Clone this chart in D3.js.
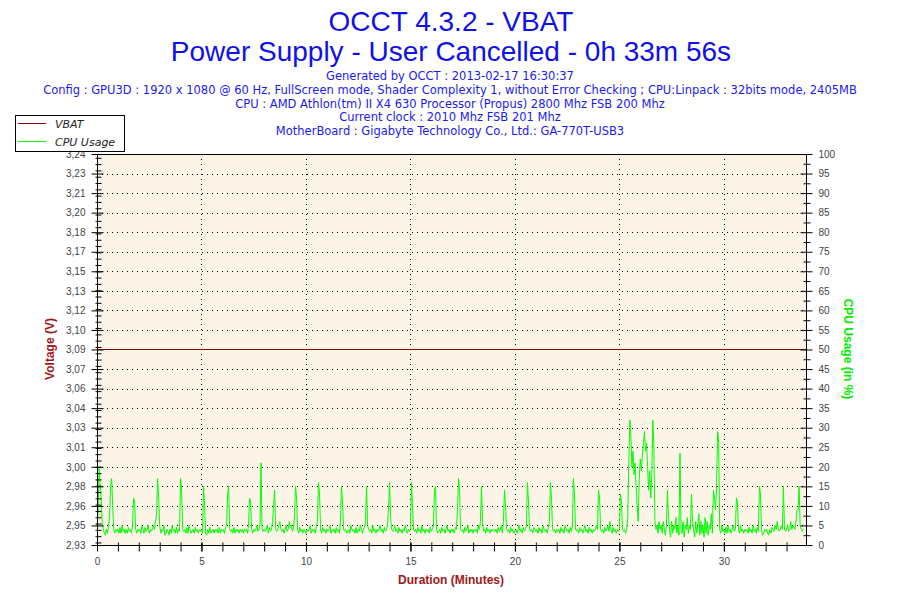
<!DOCTYPE html>
<html>
<head>
<meta charset="utf-8">
<script src="https://cdn.jsdelivr.net/npm/d3@7"></script>
<style>
body{margin:0;background:#fff;}
</style>
</head>
<body>
<script>
// --- data ---
var titleLines = ['OCCT 4.3.2 - VBAT', 'Power Supply - User Cancelled - 0h 33m 56s'];
var infoLines = [
  'Generated by OCCT : 2013-02-17 16:30:37',
  'Config : GPU3D : 1920 x 1080 @ 60 Hz, FullScreen mode, Shader Complexity 1, without Error Checking ; CPU:Linpack : 32bits mode, 2405MB',
  'CPU : AMD Athlon(tm) II X4 630 Processor (Propus) 2800 Mhz FSB 200 Mhz',
  'Current clock : 2010 Mhz FSB 201 Mhz',
  'MotherBoard : Gigabyte Technology Co., Ltd.: GA-770T-USB3'
];
var seriesNames = ['VBAT', 'CPU Usage'];
var seriesColors = ['#800000', '#00ff00'];

var duration = 33.93; // minutes
var vbatTime = [0, 33.93];
var vbatValue = [3.088, 3.088];

var cpuStep = 0.05; // minutes between cpu samples (one row = one minute)
var cpuUsage = [
  5, 8, 20, 15, 12, 6, 4, 3, 2.5, 4, 3, 5, 7, 15, 17, 10, 4, 3, 4, 3.5,
  4, 3, 4.5, 3, 5, 3.5, 4, 3, 4, 3, 4.5, 3.5, 4, 3, 5, 12, 11, 4, 3, 4,
  3.5, 4, 3, 5, 4, 3, 4.5, 3.5, 4, 5, 3, 4, 3.5, 4, 5, 4, 6, 8, 17, 12,
  5, 3, 4, 3.5, 5, 2.5, 3, 4, 3.5, 2.5, 4, 3, 5, 3.5, 4, 3, 4.5, 3, 4, 3.5,
  17, 14, 4, 3.5, 4, 3, 4.5, 3, 5, 4, 3, 3.5, 4, 3, 4.5, 3.5, 4, 3, 4, 3.5,
  4, 3, 15, 10, 3, 2.5, 4, 3, 4.5, 3, 3.5, 4, 3, 4, 3.5, 4, 3, 4.5, 3, 4,
  3.5, 4, 3, 4.5, 5, 13, 15, 4, 3.5, 4, 3, 4.5, 3, 4, 3.5, 4, 3, 4, 3.5, 4,
  3, 4, 3.5, 4, 3, 5, 12, 11, 4, 3, 4, 3.5, 4, 5, 3.5, 4, 5, 21, 4, 3.5,
  4, 3.5, 4, 5, 3, 4.5, 3.5, 4, 6, 10, 14, 4, 3.5, 4, 5, 6, 4, 3.5, 4, 3,
  4, 5, 3.5, 4, 6, 4.5, 5, 3.5, 4, 7, 15, 12, 4, 3, 4.5, 3.5, 4, 3, 4, 3.5,
  3, 4, 3.5, 4, 5, 3, 4, 3.5, 4, 3, 5, 6, 16, 13, 4, 3, 4.5, 3.5, 4, 3,
  4, 3.5, 4, 5, 3, 4, 3.5, 4, 3, 4.5, 3.5, 4, 3, 6, 15, 11, 4, 3.5, 4, 3,
  3.5, 4, 3, 5, 4, 3.5, 4, 3, 4.5, 3, 4, 3.5, 5, 4, 3, 4, 4.5, 6, 15, 5,
  4, 3.5, 4, 3, 5, 3.5, 4, 3, 4, 3.5, 4, 5, 3.5, 4, 3, 4.5, 3.5, 4, 5, 9,
  16, 7, 4, 3.5, 4, 5, 3.5, 4, 3, 4.5, 3.5, 4, 3, 4, 3.5, 5, 4, 3, 4, 3.5,
  4, 16, 10, 4, 3.5, 4, 3, 4.5, 3.5, 4, 3, 5, 3.5, 4, 3, 4, 3.5, 4, 3, 4.5,
  3.5, 4, 5, 14, 15, 4, 3, 3.5, 4, 3, 4.5, 3.5, 4, 3, 4, 5, 3.5, 4, 3, 4,
  3.5, 4, 3, 4.5, 4, 9, 17, 14, 4, 3.5, 4, 3, 4.5, 3.5, 4, 5, 3, 4, 3.5, 4,
  3, 4, 3.5, 4, 3, 5, 4, 6, 15, 6, 3.5, 4, 3, 4.5, 3.5, 4, 3, 4, 3.5, 4,
  4, 3.5, 4, 3, 4.5, 3.5, 4, 5, 3, 6, 14, 10, 4, 3.5, 4, 3, 4.5, 3.5, 4, 3,
  3.5, 4, 3, 4, 5, 3.5, 4, 3, 4.5, 3.5, 4, 5, 16, 11, 4, 3.5, 4, 3, 4.5, 4,
  3.5, 4, 3, 4.5, 3.5, 4, 3, 5, 4, 3.5, 4, 3, 4.5, 6, 16, 12, 4, 3.5, 4, 3,
  4, 3.5, 4, 3, 4.5, 3.5, 4, 3, 5, 4, 3.5, 4, 3, 4.5, 3.5, 5, 17, 13, 4, 3.5,
  4, 3, 4.5, 3.5, 4, 3, 4, 5, 3.5, 4, 3, 4.5, 3.5, 4, 3, 4, 3.5, 4, 5, 4,
  14, 12, 4, 3.5, 4, 3, 4.5, 3.5, 4, 5, 3.5, 6, 4, 3, 4.5, 3.5, 4, 3, 4, 3.5,
  4, 13, 11, 4, 3.5, 4, 3, 4, 7, 21, 32, 28, 20, 24, 18, 21, 15, 10, 6, 17,
  22, 19, 23, 26, 29, 24, 26, 20, 14, 19, 12, 18, 32, 25, 6, 4, 5, 3, 6, 4,
  5, 3, 6, 4, 2.5, 5, 14, 7, 4, 2, 6, 3, 5, 4, 7, 3, 5, 2.5, 23.5, 4,
  3, 6, 2, 5, 4, 7, 3, 5, 4, 13, 6, 4, 2, 6, 3, 5, 8, 2.5, 6, 3,
  5, 2, 7, 3, 6, 2.5, 5, 4, 8, 3, 14, 12, 9, 15, 29, 27, 4, 3, 5, 3.5,
  4, 3, 4.5, 3, 5, 3.5, 4, 3, 4, 5, 3.5, 4, 12, 11, 4, 3, 5, 3.5, 4, 3,
  4, 3.5, 4, 3, 4.5, 3.5, 4, 3, 5, 3.5, 4, 3, 4.5, 3.5, 15, 13, 4, 2.5, 3, 4,
  3.5, 4, 3, 2.5, 4, 3, 4.5, 4, 3.5, 5, 4, 6, 4, 3.5, 4, 5, 4, 15, 4, 3.5,
  4, 5, 3.5, 4, 6, 4, 5, 4.5, 4, 6, 9, 9, 15, 5, 4, 3.5, 4
];

var voltTicks = [2.933, 2.9485, 2.964, 2.9795, 2.995, 3.0105, 3.026, 3.0415, 3.057, 3.0725, 3.088,
                 3.1035, 3.119, 3.1345, 3.15, 3.1655, 3.181, 3.1965, 3.212, 3.2275, 3.243];
var voltLabels = ['2,93', '2,95', '2,96', '2,98', '3,00', '3,01', '3,03', '3,04', '3,06', '3,07', '3,09',
                  '3,10', '3,12', '3,13', '3,15', '3,17', '3,18', '3,20', '3,21', '3,23', '3,24'];
var cpuTicks = [0, 5, 10, 15, 20, 25, 30, 35, 40, 45, 50, 55, 60, 65, 70, 75, 80, 85, 90, 95, 100];
var timeTicks = [0, 5, 10, 15, 20, 25, 30];

// --- drawing ---
var W = 900, H = 600;
var pLeft = 97, pRight = 806, pTop = 154, pBottom = 545;

var svg = d3.select('body').append('svg')
  .attr('width', W).attr('height', H)
  .style('font-family', 'Liberation Sans, Arial, sans-serif');

var x = d3.scaleLinear().domain([0, duration]).range([pLeft, pRight]);
var yV = d3.scaleLinear().domain([voltTicks[0], voltTicks[voltTicks.length - 1]]).range([pBottom, pTop]);
var yC = d3.scaleLinear().domain([0, 100]).range([pBottom, pTop]);

// titles
titleLines.forEach(function(t, i) {
  svg.append('text')
    .text(t)
    .attr('x', 451)
    .attr('y', 31 + i * 29.5)
    .attr('text-anchor', 'middle')
    .style('font-size', '28px')
    .attr('fill', '#1010e8');
});

infoLines.forEach(function(t, i) {
  svg.append('text')
    .text(t)
    .attr('x', 450)
    .attr('y', 80 + i * 13.8)
    .attr('text-anchor', 'middle')
    .style('font-family', 'DejaVu Sans, Verdana, sans-serif')
    .style('font-size', '11.5px')
    .attr('fill', '#1a1af0');
});

// plot background
svg.append('rect')
  .attr('x', pLeft).attr('y', pTop)
  .attr('width', pRight - pLeft).attr('height', pBottom - pTop)
  .attr('fill', '#fcf5e7');

// dotted grid
svg.selectAll('.hgrid').data(voltTicks).enter().append('line')
  .attr('class', 'hgrid')
  .attr('x1', pLeft).attr('x2', pRight)
  .attr('y1', function(d) { return Math.round(yV(d)) + 0.5; })
  .attr('y2', function(d) { return Math.round(yV(d)) + 0.5; })
  .attr('stroke', '#000').attr('stroke-dasharray', '1,4');

svg.selectAll('.vgrid').data(timeTicks.slice(1)).enter().append('line')
  .attr('class', 'vgrid')
  .attr('y1', pTop).attr('y2', pBottom)
  .attr('x1', function(d) { return Math.round(x(d)) + 0.5; })
  .attr('x2', function(d) { return Math.round(x(d)) + 0.5; })
  .attr('stroke', '#000').attr('stroke-dasharray', '1,4');

// series
var cpuLine = d3.line()
  .x(function(d, i) { return x(i * cpuStep); })
  .y(function(d) { return yC(d); });

svg.append('path')
  .datum(cpuUsage)
  .attr('d', cpuLine)
  .attr('fill', 'none')
  .attr('stroke', seriesColors[1])
  .attr('stroke-width', 1);

var vLine = d3.line()
  .x(function(d) { return x(d); })
  .y(function(d, i) { return Math.round(yV(vbatValue[i])) + 0.5; });

svg.append('path')
  .datum(vbatTime)
  .attr('d', vLine)
  .attr('fill', 'none')
  .attr('stroke', seriesColors[0])
  .attr('stroke-width', 1);

// frame
svg.append('rect')
  .attr('x', pLeft + 0.5).attr('y', pTop + 0.5)
  .attr('width', pRight - pLeft).attr('height', pBottom - pTop)
  .attr('fill', 'none').attr('stroke', '#000');

// axes
function styleAxis(g) {
  g.select('.domain').remove();
  g.selectAll('line').attr('stroke', '#000');
  g.selectAll('text').attr('fill', '#444').style('font-size', '10px')
    .style('font-family', 'Liberation Sans, Arial, sans-serif');
}

var leftAxis = svg.append('g')
  .attr('transform', 'translate(' + (pLeft + 0.5) + ',0)')
  .call(d3.axisLeft(yV).tickValues(voltTicks)
    .tickFormat(function(d, i) { return voltLabels[i]; })
    .tickSizeInner(6).tickSizeOuter(0).tickPadding(6));
styleAxis(leftAxis);
leftAxis.selectAll('.tick line').attr('x2', 6).attr('x1', -6);

// minor voltage ticks every 5 mV
svg.append('g')
  .attr('transform', 'translate(' + (pLeft + 0.5) + ',0)')
  .call(d3.axisLeft(yV).tickValues(d3.range(2.935, 3.2425, 0.005)).tickFormat('').tickSizeOuter(0))
  .call(function(g) {
    g.select('.domain').remove();
    g.selectAll('line').attr('x1', -2).attr('x2', 4).attr('stroke', '#000');
  });

var rightAxis = svg.append('g')
  .attr('transform', 'translate(' + (pRight + 0.5) + ',0)')
  .call(d3.axisRight(yC).tickValues(cpuTicks)
    .tickSizeInner(6).tickSizeOuter(0).tickPadding(6));
styleAxis(rightAxis);
rightAxis.selectAll('.tick line').attr('x1', -6).attr('x2', 6);

svg.append('g')
  .attr('transform', 'translate(' + (pRight + 0.5) + ',0)')
  .call(d3.axisRight(yC).tickValues(d3.range(2.5, 100, 5)).tickFormat('').tickSizeOuter(0))
  .call(function(g) {
    g.select('.domain').remove();
    g.selectAll('line').attr('x1', -3).attr('x2', 4).attr('stroke', '#000');
  });

var bottomAxis = svg.append('g')
  .attr('transform', 'translate(0,' + (pBottom + 0.5) + ')')
  .call(d3.axisBottom(x).tickValues(timeTicks)
    .tickSizeInner(6).tickSizeOuter(0).tickPadding(6));
styleAxis(bottomAxis);
bottomAxis.selectAll('.tick line').attr('y1', -3);

svg.append('g')
  .attr('transform', 'translate(0,' + (pBottom + 0.5) + ')')
  .call(d3.axisBottom(x).tickValues(d3.range(1, 34, 1)).tickFormat('').tickSizeOuter(0))
  .call(function(g) {
    g.select('.domain').remove();
    g.selectAll('line').attr('y1', -3).attr('y2', 6).attr('stroke', '#000');
  });

// axis titles
svg.append('text')
  .text('Duration (Minutes)')
  .attr('x', 451).attr('y', 584)
  .attr('text-anchor', 'middle')
  .style('font-size', '12px').style('font-weight', 'bold')
  .attr('fill', '#a01818');

svg.append('text')
  .text('Voltage (V)')
  .attr('x', 54).attr('y', 349)
  .attr('text-anchor', 'middle')
  .attr('transform', 'rotate(-90,54,349)')
  .style('font-size', '12px').style('font-weight', 'bold')
  .attr('fill', '#a01818');

svg.append('text')
  .text('CPU Usage (in %)')
  .attr('x', 844).attr('y', 349)
  .attr('text-anchor', 'middle')
  .attr('transform', 'rotate(90,844,349)')
  .style('font-size', '12px').style('font-weight', 'bold')
  .attr('fill', '#00ee00');

// legend
svg.append('rect')
  .attr('x', 15.5).attr('y', 115.5)
  .attr('width', 109).attr('height', 36)
  .attr('fill', '#fff').attr('stroke', '#000');

seriesNames.forEach(function(n, i) {
  var ly = 123.5 + i * 18;
  svg.append('line')
    .attr('x1', 18).attr('x2', 46)
    .attr('y1', ly).attr('y2', ly)
    .attr('stroke', seriesColors[i]);
  svg.append('text')
    .text(n)
    .attr('x', 55).attr('y', ly + 4)
    .style('font-family', 'DejaVu Sans, Verdana, sans-serif')
    .style('font-size', '11px').style('font-style', 'italic')
    .attr('fill', '#222');
});
</script>
</body>
</html>
